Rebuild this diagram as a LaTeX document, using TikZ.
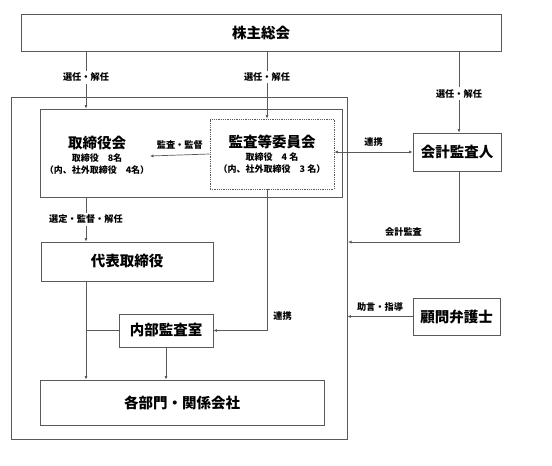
\documentclass[tikz,border=0pt]{standalone}
\usepackage{fontspec}
\setmainfont{Noto Sans CJK JP}
\usepackage{tikz}
\usetikzlibrary{positioning, arrows.meta}

\begin{document}
\begin{tikzpicture}[x=1pt,y=-1pt]
\tikzstyle{every node}+=[inner sep=1pt, font=\bfseries]
\tikzstyle{box}=[draw=black!65, line width=0.8pt, minimum width=#1, inner sep=0pt]
\tikzstyle{big}=[font=\bfseries\fontsize{14.5}{16}\selectfont]
\tikzstyle{lbl}=[font=\bfseries\fontsize{9.2}{10}\selectfont]
\tikzstyle{wlbl}=[lbl, fill=white, inner sep=2pt]
\tikzstyle{arr}=[draw=black!65, line width=0.7pt, -{Latex[length=3.5pt,width=3pt]}]
\tikzstyle{ln}=[draw=black!65, line width=0.7pt]
\useasboundingbox (0,0) rectangle (552,466);
% boxes
\node[box=480pt, minimum height=37pt, big] (gm) at (261,32.5) {株主総会};
\node[box=336pt, minimum height=342pt] (grp) at (179,268) {};
\node[box=302pt, minimum height=88pt] (bd) at (191,153) {};
\node[box=124pt, minimum height=70pt, densely dotted, align=center] (ac) at (272,154)
  {{\fontsize{14.5}{16}\selectfont 監査等委員会}\\[1pt]
   {\fontsize{9}{14}\selectfont 取締役　4 名}\\
   {\fontsize{9}{14}\selectfont （内、社外取締役　3 名）}};
\node[align=center] (bod) at (97,155)
  {{\fontsize{14.5}{16}\selectfont 取締役会}\\[1pt]
   {\fontsize{9}{14}\selectfont 取締役　8名}\\
   {\fontsize{9}{14}\selectfont （内、社外取締役　4名）}};
\node[box=88pt, minimum height=38pt, big] (ext) at (457,152) {会計監査人};
\node[box=172pt, minimum height=39pt, big] (rep) at (127,261.5) {代表取締役};
\node[box=94pt, minimum height=33pt, big] (ia) at (166,330.5) {内部監査室};
\node[box=284pt, minimum height=45pt, big] (dept) at (182,402.5) {各部門・関係会社};
\node[box=87pt, minimum height=37pt, big] (law) at (456.5,316.5) {顧問弁護士};
% columns
\coordinate (colA) at (86,0);
\coordinate (colB) at (267,0);
\coordinate (colC) at (459,0);
\coordinate (bdtip) at (150,156);
\coordinate (caend) at (348,242);
% connectors
\draw[arr] (colA |- gm.south) -- node[wlbl, pos=0.45] {選任・解任} (colA |- bd.north);
\draw[arr] (colB |- gm.south) -- node[wlbl, pos=0.38] {選任・解任} (colB |- ac.north);
\draw[arr] (colC |- gm.south) -- node[wlbl, pos=0.52] {選任・解任} (colC |- ext.north);
\draw[arr] (ac.west) -- node[lbl, above=4pt] {監査・監督} (bdtip);
\draw[arr, {Latex[length=3.5pt,width=3pt]}-{Latex[length=3.5pt,width=3pt]}]
  (ext.west -| ac.east) -- node[lbl, above=4pt] {連携} (ext.west);
\draw[arr] (colB |- ac.south) |- node[lbl, right=5pt, pos=0.45] {連携} (ia.east);
\draw[arr] (colC |- ext.south) |- node[lbl, above=4pt, pos=0.75] {会計監査} (caend);
\draw[arr] (law.west) -- node[lbl, above=4pt] {助言・指導} (law.west -| grp.east);
\draw[arr] (colA |- bd.south) -- node[wlbl] {選定・監督・解任} (colA |- rep.north);
\draw[arr] (colA |- rep.south) -- (colA |- dept.north);
\draw[ln] (colA |- ia.west) -- (ia.west);
\draw[arr] (ia.south) -- (ia.south |- dept.north);
\end{tikzpicture}
\end{document}
